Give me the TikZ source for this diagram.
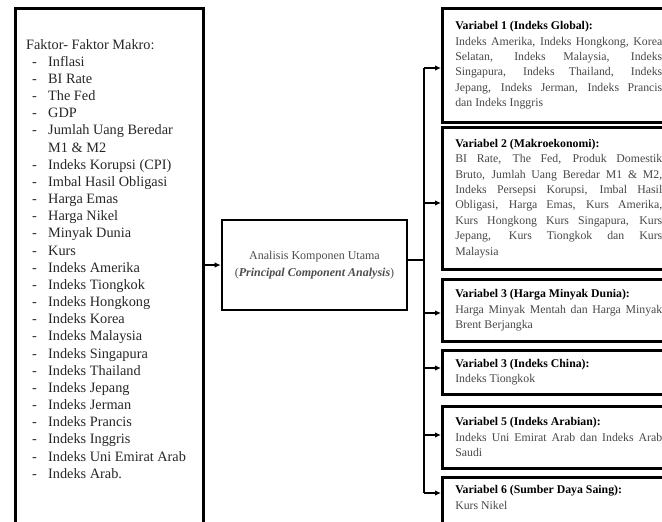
\documentclass[tikz,border=0pt]{standalone}
\usepackage{fontspec}
\setmainfont{Liberation Serif}
\usetikzlibrary{arrows.meta,calc}
\tikzset{
  box/.style={draw, line width=2.6pt, inner sep=0pt},
  rbox/.style={draw, line width=2.6pt, anchor=north west, inner xsep=13pt, inner ysep=0pt,
    text width=207pt, align=justify, font=\fontsize{11.8}{15.4}\selectfont, text=black!72},
  conn/.style={line width=1.4pt},
  arr/.style={conn, -{Latex[length=6pt,width=5.5pt]}},
}
\newcommand{\vtitle}[1]{\textcolor{black}{\textbf{#1}}\par}
\begin{document}
\begin{tikzpicture}[x=1pt,y=-1pt]
\useasboundingbox (0,0) rectangle (662,522);
\clip (0,0) rectangle (662,522);

% left box
\node[box, anchor=north west, minimum width=188pt, minimum height=540pt] (makro) at (14,7) {};
\node[anchor=base west, inner sep=0pt, text=black!85, font=\fontsize{14.3}{17.17}\selectfont] (list) at (26,49) {%
\begin{tabular}[t]{@{}p{22pt}@{}l@{}}
\multicolumn{2}{@{}l@{}}{Faktor- Faktor Makro:}\\
\hspace{6pt}- & Inflasi\\
\hspace{6pt}- & BI Rate\\
\hspace{6pt}- & The Fed\\
\hspace{6pt}- & GDP\\
\hspace{6pt}- & Jumlah Uang Beredar\\
 & M1 \& M2\\
\hspace{6pt}- & Indeks Korupsi (CPI)\\
\hspace{6pt}- & Imbal Hasil Obligasi\\
\hspace{6pt}- & Harga Emas\\
\hspace{6pt}- & Harga Nikel\\
\hspace{6pt}- & Minyak Dunia\\
\hspace{6pt}- & Kurs\\
\hspace{6pt}- & Indeks Amerika\\
\hspace{6pt}- & Indeks Tiongkok\\
\hspace{6pt}- & Indeks Hongkong\\
\hspace{6pt}- & Indeks Korea\\
\hspace{6pt}- & Indeks Malaysia\\
\hspace{6pt}- & Indeks Singapura\\
\hspace{6pt}- & Indeks Thailand\\
\hspace{6pt}- & Indeks Jepang\\
\hspace{6pt}- & Indeks Jerman\\
\hspace{6pt}- & Indeks Prancis\\
\hspace{6pt}- & Indeks Inggris\\
\hspace{6pt}- & Indeks Uni Emirat Arab\\
\hspace{6pt}- & Indeks Arab.
\end{tabular}};

% middle box
\node[box, minimum width=185pt, minimum height=90pt, align=center, text=black!70,
  font=\fontsize{12}{17}\selectfont] (mid) at (314.5,265)
  {Analisis Komponen Utama\\(\textbf{\textit{Principal Component Analysis}})};

% right boxes
\node[rbox, minimum height=114pt] (b1) at (441,7) {\vtitle{Variabel 1 (Indeks Global):}%
Indeks Amerika, Indeks Hongkong, Korea\linebreak Selatan, Indeks Malaysia, Indeks\linebreak
Singapura, Indeks Thailand, Indeks\linebreak Jepang, Indeks Jerman, Indeks Prancis\linebreak
dan Indeks Inggris};
\node[rbox, minimum height=142pt] (b2) at (441,126) {\vtitle{Variabel 2 (Makroekonomi):}%
BI Rate, The Fed, Produk Domestik\linebreak Bruto, Jumlah Uang Beredar M1 \& M2,\linebreak
Indeks Persepsi Korupsi, Imbal Hasil\linebreak Obligasi, Harga Emas, Kurs Amerika,\linebreak
Kurs Hongkong Kurs Singapura, Kurs\linebreak Jepang, Kurs Tiongkok dan Kurs\linebreak Malaysia};
\node[rbox, minimum height=62pt] (b3) at (441,278) {\vtitle{Variabel 3 (Harga Minyak Dunia):}%
Harga Minyak Mentah dan Harga Minyak\linebreak Brent Berjangka};
\node[rbox, minimum height=44pt] (b4) at (441,349) {\vtitle{Variabel 3 (Indeks China):}%
Indeks Tiongkok};
\node[rbox, minimum height=62pt] (b5) at (441,405) {\vtitle{Variabel 5 (Indeks Arabian):}%
Indeks Uni Emirat Arab dan Indeks Arab\linebreak Saudi};
\node[rbox, minimum height=70pt] (b6) at (441,476) {\vtitle{Variabel 6 (Sumber Daya Saing):}%
Kurs Nikel\rule[-30pt]{0pt}{0pt}};

% connectors
\coordinate (spine) at (424,0);
\coordinate (a1) at ([yshift=-61pt]b1.north west);
\coordinate (a2) at ([yshift=-77pt]b2.north west);
\coordinate (a3) at ([yshift=-35pt]b3.north west);
\coordinate (a4) at ([yshift=-19pt]b4.north west);
\coordinate (a5) at ([yshift=-30pt]b5.north west);
\coordinate (a6) at ([yshift=-17pt]b6.north west);
\coordinate (exit) at ([yshift=5pt]mid.east);

\draw[arr] (mid.west -| makro.east) -- (mid.west);
\draw[conn] (exit) -- (exit -| spine);
\draw[conn] (spine |- a1) -- (spine |- a6);
\foreach \i in {1,...,6} \draw[arr] (spine |- a\i) -- (a\i);
\end{tikzpicture}
\end{document}
